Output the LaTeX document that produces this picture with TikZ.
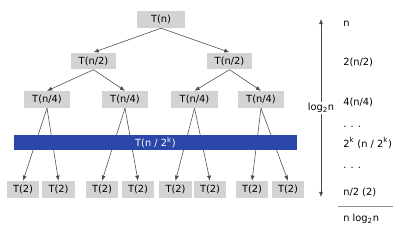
\documentclass[tikz,border=0pt]{standalone}
\usepackage{fontspec}
\setmainfont{DejaVu Sans}
\usetikzlibrary{arrows.meta}
\definecolor{BoxGray}{HTML}{D3D3D3}
\definecolor{BarBlue}{HTML}{2A47A9}
\definecolor{LineGray}{HTML}{4A4A4A}

\begin{document}
\begin{tikzpicture}[
    x=0.025cm, y=-0.025cm,
    font=\fontsize{7}{8.5}\selectfont,
    tbox/.style={fill=BoxGray, minimum height=0.42cm, inner sep=1pt},
    arr/.style={-{Latex[length=1.3mm, width=1mm]}, thin, draw=LineGray},
    cost/.style={anchor=west, inner sep=0pt}
  ]
    \useasboundingbox (0,0) rectangle (400,232);

    \node[tbox, minimum width=1.2cm] (tn) at (161,19.5) {T(n)};
    \node[tbox, minimum width=1.12cm] (h1) at (93.5,61) {T(n/2)};
    \node[tbox, minimum width=1.12cm] (h2) at (229.5,61) {T(n/2)};
    \node[tbox, minimum width=1.17cm] (q1) at (47,99.5) {T(n/4)};
    \node[tbox, minimum width=1.17cm] (q2) at (125,99.5) {T(n/4)};
    \node[tbox, minimum width=1.17cm] (q3) at (194.5,99.5) {T(n/4)};
    \node[tbox, minimum width=1.17cm] (q4) at (261,99.5) {T(n/4)};

    \node[tbox, minimum width=0.8cm] (l1) at (23,189.5) {T(2)};
    \node[tbox, minimum width=0.8cm] (l2) at (58.5,189.5) {T(2)};
    \node[tbox, minimum width=0.8cm] (l3) at (102,189.5) {T(2)};
    \node[tbox, minimum width=0.8cm] (l4) at (138,189.5) {T(2)};
    \node[tbox, minimum width=0.8cm] (l5) at (175.5,189.5) {T(2)};
    \node[tbox, minimum width=0.8cm] (l6) at (210,189.5) {T(2)};
    \node[tbox, minimum width=0.8cm] (l7) at (252,189.5) {T(2)};
    \node[tbox, minimum width=0.8cm] (l8) at (288,189.5) {T(2)};

    \draw[arr] (tn.south) -- (h1.north);
    \draw[arr] (tn.south) -- (h2.north);
    \draw[arr] (h1.south) -- (q1.north);
    \draw[arr] (h1.south) -- (q2.north);
    \draw[arr] (h2.south) -- (q3.north);
    \draw[arr] (h2.south) -- (q4.north);
    \draw[arr] (q1.south) -- (l1.north);
    \draw[arr] (q1.south) -- (l2.north);
    \draw[arr] (q2.south) -- (l3.north);
    \draw[arr] (q2.south) -- (l4.north);
    \draw[arr] (q3.south) -- (l5.north);
    \draw[arr] (q3.south) -- (l6.north);
    \draw[arr] (q4.south) -- (l7.north);
    \draw[arr] (q4.south) -- (l8.north);

    % level k, covers the edges
    \node[fill=BarBlue, text=white, minimum width=7.07cm, minimum height=0.37cm,
      inner sep=0pt] (bar) at (155.5,142.5) {T(n / 2\textsuperscript{k})};

    % height of the tree
    \coordinate (top) at (321,19);
    \coordinate (bot) at (321,197);
    \draw[{Latex[length=1.3mm, width=1mm]}-{Latex[length=1.3mm, width=1mm]}, thin, draw=LineGray]
      (top) -- node[fill=white, inner sep=1pt] (depth) {log\textsubscript{2}n} (bot);

    \node[cost] (c0) at (343,24) {n};
    \node[cost] (c1) at (343,62) {2(n/2)};
    \node[cost] (c2) at (343,102) {4(n/4)};
    \node[cost] (c3) at (343,127) {. . .};
    \node[cost] (c4) at (343,143) {2\textsuperscript{k} (n / 2\textsuperscript{k})};
    \node[cost] (c5) at (343,168) {. . .};
    \node[cost] (c6) at (343,192) {n/2 (2)};
    \coordinate (rl) at (338,206);
    \coordinate (rr) at (393,206);
    \draw[BoxGray!70!black, thin] (rl) -- (rr);
    \node[cost] (total) at (343,219) {n log\textsubscript{2}n};
  \end{tikzpicture}
\end{document}
